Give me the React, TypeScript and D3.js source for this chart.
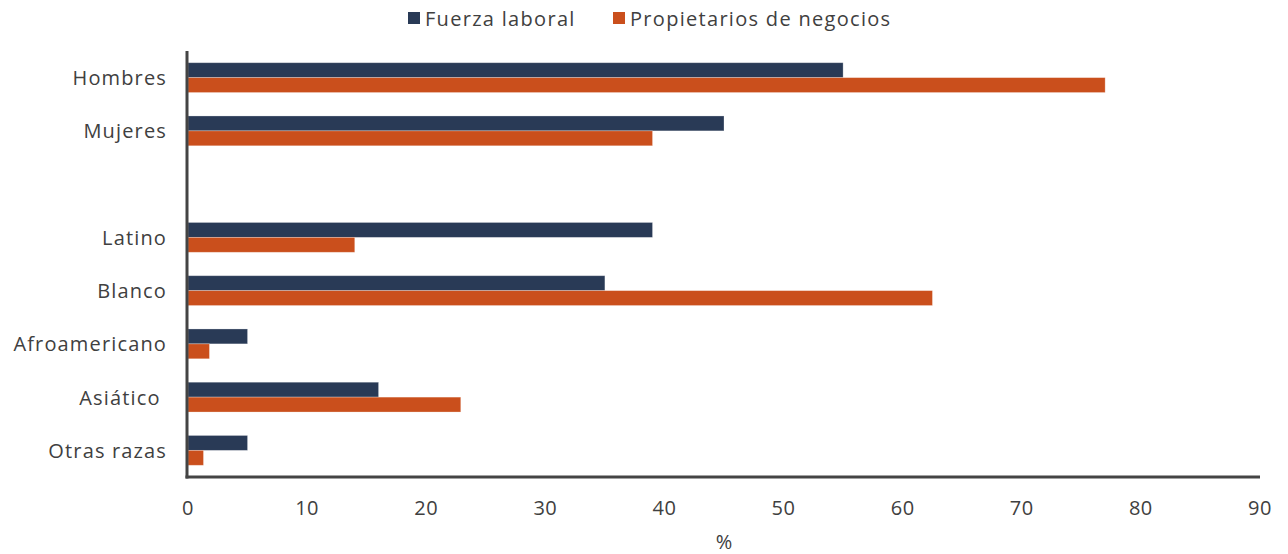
import React from "react";
import * as d3 from "d3";

const categories = ["Hombres", "Mujeres", "", "Latino", "Blanco", "Afroamericano", "Asiático ", "Otras razas"];
const fuerzaLaboral = [55, 45, null, 39, 35, 5, 16, 5];
const propietarios = [77, 39, null, 14, 62.5, 1.8, 22.9, 1.3];
const seriesNames = ["Fuerza laboral", "Propietarios de negocios"];
const seriesColors = ["#293a56", "#ca4f1c"];
const xTicks = [0, 10, 20, 30, 40, 50, 60, 70, 80, 90];

const W = 1288;
const H = 554;
const margin = { left: 188, right: 28, top: 51, bottom: 77 };
const FONT = "'Open Sans', sans-serif";
const TEXT = "#404040";
const FS = 20;
const LS = 1.15;

export default function App() {
  const x = d3.scaleLinear().domain([0, 90]).range([margin.left, W - margin.right]);
  const y = d3
    .scaleBand<string>()
    .domain(categories.map((c, i) => String(i)))
    .range([margin.top, H - margin.bottom])
    .paddingInner(0.44)
    .paddingOuter(0.22);
  const inner = d3.scaleBand<string>().domain(["0", "1"]).range([0, y.bandwidth()]);
  const series = [fuerzaLaboral, propietarios];
  const axisY = H - margin.bottom;

  return (
    <svg width={W} height={H} style={{ position: "absolute", left: 0, top: 0, background: "#fff" }}>
      {series.map((vals, s) =>
        vals.map((v, i) =>
          v == null ? null : (
            <rect
              key={`${s}-${i}`}
              x={x(0)}
              y={(y(String(i)) as number) + (inner(String(s)) as number)}
              width={x(v) - x(0)}
              height={inner.bandwidth()}
              fill={seriesColors[s]}
              stroke="#fff"
              strokeOpacity={0.35}
              strokeWidth={0.8}
            />
          )
        )
      )}
      <line x1={x(0) - 1} x2={x(0) - 1} y1={margin.top} y2={axisY + 1.5} stroke="#444" strokeWidth={3} />
      <line x1={x(0) - 2.5} x2={x(90)} y1={axisY} y2={axisY} stroke="#444" strokeWidth={3} />
      {categories.map((c, i) =>
        c ? (
          <text
            key={c}
            x={x(0) - 21}
            y={(y(String(i)) as number) + y.bandwidth() / 2}
            textAnchor="end"
            dominantBaseline="central"
            fontFamily={FONT}
            fontSize={FS}
            letterSpacing={LS}
            fill={TEXT}
            style={{ whiteSpace: "pre" }}
          >
            {c}
          </text>
        ) : null
      )}
      {xTicks.map((t) => (
        <text
          key={t}
          x={x(t)}
          y={507}
          textAnchor="middle"
          dominantBaseline="central"
          fontFamily={FONT}
          fontSize={FS}
          letterSpacing={0.5}
          fill={TEXT}
        >
          {t}
        </text>
      ))}
      <text x={724} y={541} textAnchor="middle" dominantBaseline="central" fontFamily={FONT} fontSize={FS} fill={TEXT}>
        %
      </text>
      <g>
        <rect x={408} y={12} width={12} height={12} fill={seriesColors[0]} />
        <text x={425} y={18} dominantBaseline="central" fontFamily={FONT} fontSize={FS} letterSpacing={1.3} fill={TEXT}>
          {seriesNames[0]}
        </text>
        <rect x={613} y={12} width={12} height={12} fill={seriesColors[1]} />
        <text x={630} y={18} dominantBaseline="central" fontFamily={FONT} fontSize={FS} letterSpacing={1.3} fill={TEXT}>
          {seriesNames[1]}
        </text>
      </g>
    </svg>
  );
}
